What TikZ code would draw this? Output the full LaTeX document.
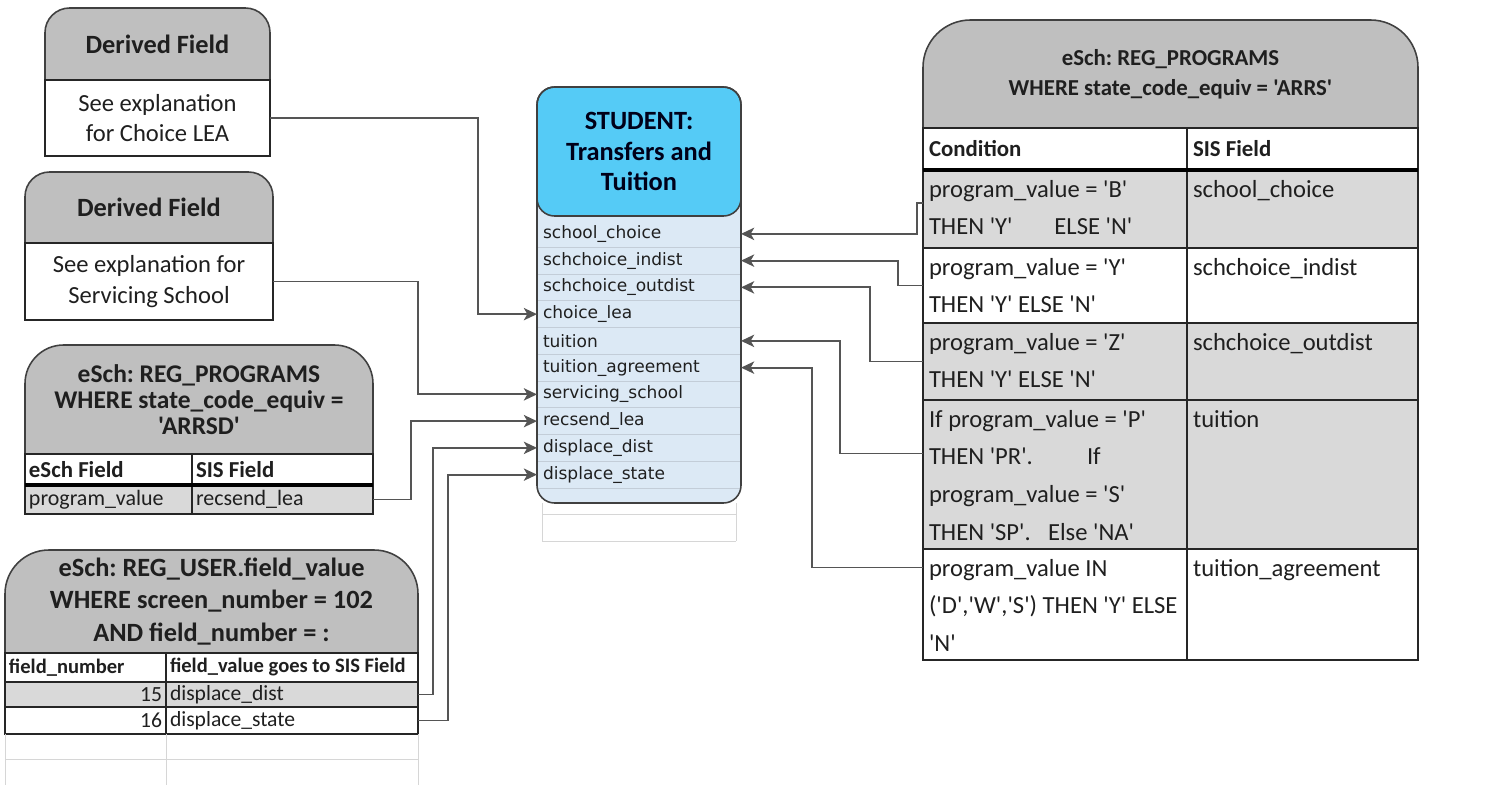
\documentclass[tikz,border=0pt]{standalone}
\usepackage{fontspec}
\setmainfont{Carlito}[Ligatures=TeXOff]
\newfontfamily\fieldfont{DejaVu Sans}
\usetikzlibrary{arrows.meta,calc,fit}
\frenchspacing

\definecolor{hdrgray}{HTML}{BFBFBF}
\definecolor{rowgray}{HTML}{D9D9D9}
\definecolor{stucyan}{HTML}{55CBF6}
\definecolor{stublue}{HTML}{DCE9F5}
\definecolor{stusep}{HTML}{C3CDD8}
\definecolor{wire}{HTML}{555555}
\definecolor{gridc}{HTML}{D6D6D6}

% grey title bar with round top corners over a named area
\newcommand\roundhead[2]{\filldraw[hdr, rounded corners=#2] (#1.south west) -- (#1.north west) -- (#1.north east) -- (#1.south east);}

\begin{document}
\begin{tikzpicture}[x=0.02cm, y=-0.02cm,
  cell/.style={draw=black!85, line width=0.9pt, inner sep=0, outer sep=0},
  area/.style={inner sep=0, outer sep=0},
  hdr/.style={fill=hdrgray, draw=black!75, line width=0.9pt},
  txt/.style={inner sep=0, outer sep=0, text=black!88},
  rowtxt/.style={txt, align=left, font=\fontsize{14}{21.5}\selectfont},
  conn/.style={draw=wire, line width=1.1pt, -{Stealth[length=7.5pt,width=7pt,inset=2pt]}},
  gridln/.style={draw=gridc, line width=0.5pt}]
  \useasboundingbox (0,0) rectangle (1508,785);

  % derived fields
  \node[area, fit={(45,8) (270,80)}] (d1h) {};
  \roundhead{d1h}{14pt}
  \node[txt, font=\bfseries\fontsize{15}{18}\selectfont] (d1ht) at (d1h.center) {Derived Field};
  \node[cell, fit={(45,80) (270,156)}] (d1b) {};
  \node[txt, align=center, font=\fontsize{14}{17.6}\selectfont] (d1bt) at (d1b.center) {See explanation\\for Choice LEA};

  \node[area, fit={(25,172) (273,243)}] (d2h) {};
  \roundhead{d2h}{14pt}
  \node[txt, font=\bfseries\fontsize{15}{18}\selectfont] (d2ht) at (d2h.center) {Derived Field};
  \node[cell, fit={(25,243) (273,320)}] (d2b) {};
  \node[txt, align=center, font=\fontsize{14}{17.6}\selectfont] (d2bt) at (d2b.center) {See explanation for\\Servicing School};

  % REG_PROGRAMS (left)
  \node[area, fit={(25,345) (373,454)}] (rph) {};
  \roundhead{rph}{22pt}
  \node[txt, align=center, font=\bfseries\fontsize{14.5}{14.6}\selectfont] (rpht) at (rph.center)
    {eSch: REG\_PROGRAMS\\WHERE state\_code\_equiv =\\'ARRSD'};
  \node[cell, fill=white, fit={(25,454) (192,485)}] (rpa1) {};
  \node[cell, fill=white, fit={(192,454) (373,485)}] (rpb1) {};
  \node[cell, fill=rowgray, fit={(25,485) (192,514)}] (rpa2) {};
  \node[cell, fill=rowgray, fit={(192,485) (373,514)}] (rpb2) {};
  \draw[line width=2.2pt] (rpa1.south west) -- (rpb1.south east);
  \node[txt, anchor=west, font=\bfseries\fontsize{13}{15}\selectfont] (rpat1) at ($(rpa1.west)+(4,0)$) {eSch Field};
  \node[txt, anchor=west, font=\bfseries\fontsize{13}{15}\selectfont] (rpbt1) at ($(rpb1.west)+(4,0)$) {SIS Field};
  \node[txt, anchor=west, font=\fontsize{12.5}{15}\selectfont] (rpat2) at ($(rpa2.west)+(4,0)$) {program\_value};
  \node[txt, anchor=west, font=\fontsize{12.5}{15}\selectfont] (rpbt2) at ($(rpb2.west)+(4,0)$) {recsend\_lea};

  % REG_USER
  \node[area, fit={(5,550) (418,653)}] (ruh) {};
  \roundhead{ruh}{25pt}
  \node[txt, align=center, font=\bfseries\fontsize{15}{18.4}\selectfont] (ruht) at (ruh.center)
    {eSch: REG\_USER.field\_value\\WHERE screen\_number = 102\\AND field\_number = :};
  \node[cell, fill=white, fit={(5,653) (166,682)}] (rua1) {};
  \node[cell, fill=white, fit={(166,653) (418,682)}] (rub1) {};
  \node[cell, fill=rowgray, fit={(5,682) (166,707)}] (rua2) {};
  \node[cell, fill=rowgray, fit={(166,682) (418,707)}] (rub2) {};
  \node[cell, fill=white, fit={(5,707) (166,734)}] (rua3) {};
  \node[cell, fill=white, fit={(166,707) (418,734)}] (rub3) {};
  \node[txt, anchor=west, font=\bfseries\fontsize{11.7}{14}\selectfont] (ruat1) at ($(rua1.west)+(4,0)$) {field\_number};
  \node[txt, anchor=west, font=\bfseries\fontsize{11.7}{14}\selectfont] (rubt1) at ($(rub1.west)+(4,0)$) {field\_value goes to SIS Field};
  \node[txt, anchor=east, font=\fontsize{12.3}{14}\selectfont] (ruat2) at ($(rua2.east)+(-4,0)$) {15};
  \node[txt, anchor=west, font=\fontsize{12.3}{14}\selectfont] (rubt2) at ($(rub2.west)+(4,0)$) {displace\_dist};
  \node[txt, anchor=east, font=\fontsize{12.3}{14}\selectfont] (ruat3) at ($(rua3.east)+(-4,0)$) {16};
  \node[txt, anchor=west, font=\fontsize{12.3}{14}\selectfont] (rubt3) at ($(rub3.west)+(4,0)$) {displace\_state};
  \draw[gridln] (rua3.south west) -- ++(0,51) (rua3.south east) -- ++(0,51) (rub3.south east) -- ++(0,51)
    ($(rua3.south west)+(0,25)$) -- ($(rub3.south east)+(0,25)$);

  % STUDENT table
  \draw[gridln] (542,503) -- (542,541) (736,503) -- (736,541) (542,514) -- (736,514) (542,541) -- (736,541);
  \node[area, fill=stublue, rounded corners=10pt, fit={(537,87) (741,503)}] (stu) {};
  \node[area, fit={(537,87) (741,216)}] (stuh) {};
  \filldraw[fill=stucyan, draw=black!75, line width=0.9pt, rounded corners=10pt]
    (stuh.south west) -- (stuh.north west) -- (stuh.north east) -- (stuh.south east) -- cycle;
  \node[txt, align=center, text=black!90!blue, font=\bfseries\fontsize{15}{17.6}\selectfont] (stut) at (stuh.center)
    {STUDENT:\\Transfers and\\Tuition};
  \foreach \f [count=\i] in {school\_choice, schchoice\_indist, schchoice\_outdist, choice\_lea, tuition,
      tuition\_agreement, servicing\_school, recsend\_lea, displace\_dist, displace\_state} {
    \pgfmathsetmacro\ya{220.5+26.75*(\i-1)}
    \pgfmathsetmacro\yb{220.5+26.75*\i}
    \node[area, fit={(537,\ya) (741,\yb)}] (s\i) {};
    \draw[stusep, line width=0.5pt] (s\i.south west) -- (s\i.south east);
    \node[txt, anchor=west, font=\fieldfont\fontsize{9.7}{11}\selectfont] (st\i) at ($(s\i.west)+(6,0)$) {\f};
  }
  \draw[draw=black!75, line width=0.9pt, rounded corners=10pt] (stu.south west) rectangle (stu.north east);

  % REG_PROGRAMS (right)
  \node[area, fit={(923,20) (1418,128)}] (rth) {};
  \roundhead{rth}{27pt}
  \node[txt, align=center, font=\bfseries\fontsize{13}{17}\selectfont] (rtht) at (rth.center)
    {eSch: REG\_PROGRAMS\\WHERE state\_code\_equiv = 'ARRS'};
  \node[cell, fill=white, fit={(923,128) (1187,170)}] (ha) {};
  \node[cell, fill=white, fit={(1187,128) (1418,170)}] (hb) {};
  \node[txt, anchor=west, font=\bfseries\fontsize{13}{15}\selectfont] (hat) at ($(ha.west)+(6,0)$) {Condition};
  \node[txt, anchor=west, font=\bfseries\fontsize{13}{15}\selectfont] (hbt) at ($(hb.west)+(6,0)$) {SIS Field};
  \foreach \ytop/\ybot/\rowc/\cond/\fld [count=\i] in {
      170/248/rowgray/{program\_value = 'B'\\THEN 'Y'\hspace{1.7em}ELSE 'N'}/school\_choice,
      248/323/white/{program\_value = 'Y'\\THEN 'Y' ELSE 'N'}/schchoice\_indist,
      323/400/rowgray/{program\_value = 'Z'\\THEN 'Y' ELSE 'N'}/schchoice\_outdist,
      400/549/rowgray/{If program\_value = 'P'\\THEN 'PR'.\hspace{2.2em}If\\program\_value = 'S'\\THEN 'SP'.\hspace{0.7em}Else 'NA'}/tuition,
      549/660/white/{program\_value IN\\('D','W','S') THEN 'Y' ELSE\\'N'}/tuition\_agreement} {
    \node[cell, fill=\rowc, fit={(923,\ytop) (1187,\ybot)}] (ra\i) {};
    \node[cell, fill=\rowc, fit={(1187,\ytop) (1418,\ybot)}] (rb\i) {};
    \node[rowtxt, anchor=north west] (rat\i) at ($(ra\i.north west)+(6,10)$) {\cond};
    \node[rowtxt, anchor=north west] (rbt\i) at ($(rb\i.north west)+(6,10)$) {\fld};
  }
  \draw[line width=2.2pt] (ha.south west) -- (hb.south east);

  % connectors
  \draw[conn] (d1b.east) -- ++(208,0) |- (s4.west);
  \draw[conn] (d2b.east) -- ++(145,0) |- (s7.west);
  \draw[conn] (rpb2.east) -- ++(38,0) |- (s8.west);
  \draw[conn] (rub2.east) -- ++(15,0) |- (s9.west);
  \draw[conn] (rub3.east) -- ++(30,0) |- (s10.west);
  \draw[conn] ($(ra1.west)+(0,-6)$) -- ++(-6,0) |- (s1.east);
  \draw[conn] (ra2.west) -- ++(-25,0) |- (s2.east);
  \draw[conn] (ra3.west) -- ++(-53,0) |- (s3.east);
  \draw[conn] ($(ra4.west)+(0,-21)$) -- ++(-83,0) |- (s5.east);
  \draw[conn] ($(ra5.west)+(0,-37)$) -- ++(-111,0) |- (s6.east);
\end{tikzpicture}
\end{document}
